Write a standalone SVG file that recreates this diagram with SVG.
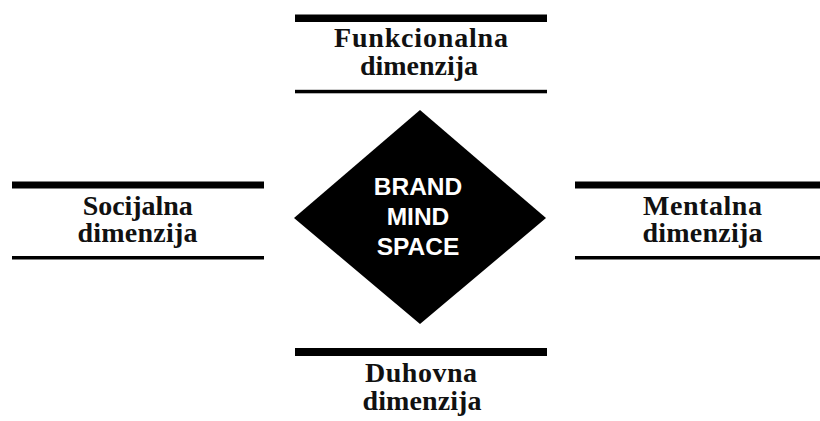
<svg xmlns="http://www.w3.org/2000/svg" width="820" height="421" viewBox="0 0 820 421">
<style>
.thick{fill:#000}
.thin{fill:#000}
.lbl{font-family:"Liberation Serif","Times New Roman",serif;font-weight:bold;font-size:28px;fill:#111;text-anchor:middle}
.core{font-family:"Liberation Sans",Arial,sans-serif;font-weight:bold;font-size:24.5px;fill:#fff;text-anchor:middle}
</style>
<rect width="820" height="421" fill="#fff"/>
<g id="connectors"></g>
<g id="center">
<polygon points="420,110 546,218 420,324 294,218" fill="#000"/>
<text class="core" x="418" y="194.5">BRAND</text>
<text class="core" x="418" y="224.5">MIND</text>
<text class="core" x="418" y="254.5">SPACE</text>
</g>
<g id="funkcionalna">
<rect class="thick" x="295" y="14.5" width="252" height="7.5"/>
<rect class="thin" x="295" y="89.8" width="252" height="3.5"/>
<text class="lbl" x="421" y="47" textLength="174" lengthAdjust="spacing">Funkcionalna</text>
<text class="lbl" x="419" y="74.5" textLength="118" lengthAdjust="spacing">dimenzija</text>
</g>
<g id="socijalna">
<rect class="thick" x="12" y="181.5" width="252" height="7"/>
<rect class="thin" x="12" y="256" width="252" height="3.5"/>
<text class="lbl" x="137.7" y="214.5" textLength="110" lengthAdjust="spacing">Socijalna</text>
<text class="lbl" x="137.5" y="242" textLength="120" lengthAdjust="spacing">dimenzija</text>
</g>
<g id="mentalna">
<rect class="thick" x="575" y="181.5" width="245" height="7"/>
<rect class="thin" x="575" y="256" width="245" height="3.5"/>
<text class="lbl" x="702.5" y="214.5" textLength="119" lengthAdjust="spacing">Mentalna</text>
<text class="lbl" x="702.5" y="242" textLength="120" lengthAdjust="spacing">dimenzija</text>
</g>
<g id="duhovna">
<rect class="thick" x="295" y="348" width="252" height="8"/>
<text class="lbl" x="421" y="382" textLength="112" lengthAdjust="spacing">Duhovna</text>
<text class="lbl" x="422" y="410" textLength="119" lengthAdjust="spacing">dimenzija</text>
</g>
</svg>
